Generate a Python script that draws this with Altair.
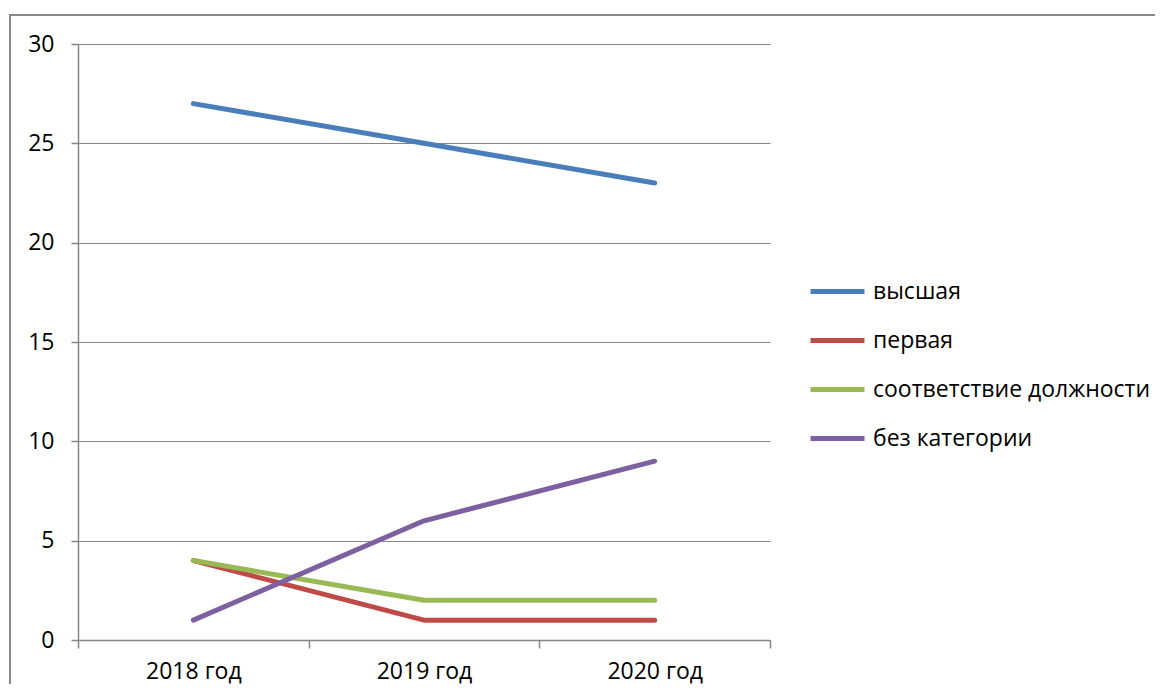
import json
import altair as alt
import pandas as pd

categories = ["2018 год", "2019 год", "2020 год"]
series_names = ["высшая", "первая", "соответствие должности", "без категории"]
v_high = [27, 25, 23]
v_first = [4, 1, 1]
v_match = [4, 2, 2]
v_none = [1, 6, 9]
colors = ["#4A7EBB", "#BE4B48", "#98B954", "#7D60A0"]
y_ticks = [0, 5, 10, 15, 20, 25, 30]

rows = []
for name, vals in zip(series_names, [v_high, v_first, v_match, v_none]):
    for i, (cat, v) in enumerate(zip(categories, vals)):
        rows.append({"cat": cat, "idx": i, "series": name, "value": v})
df = pd.DataFrame(rows)

tick_vals = []
for i in range(len(categories)):
    tick_vals += [i - 0.5, i]
tick_vals.append(len(categories) - 0.5)

label_expr = "datum.value % 1 === 0 ? " + json.dumps(categories, ensure_ascii=False) + "[datum.value] : ''"

GRAY = "#868686"
FONT = "Open Sans"
FS = 23
W, H = 692, 596
PAD = {"left": 70, "top": 36, "right": 385, "bottom": 44}

lines = alt.Chart(df).mark_line(strokeWidth=5, strokeCap="round", strokeJoin="round").encode(
    x=alt.X(
        "idx:Q",
        scale=alt.Scale(domain=[-0.5, len(categories) - 0.5], nice=False, zero=False),
        axis=alt.Axis(
            values=tick_vals,
            labelExpr=label_expr,
            title=None,
            grid=False,
            tickSize=8,
            labelPadding=12,
            tickOpacity={"condition": {"test": "datum.value % 1 !== 0", "value": 1}, "value": 0},
        ),
    ),
    y=alt.Y(
        "value:Q",
        scale=alt.Scale(domain=[0, 30], nice=False),
        axis=alt.Axis(values=y_ticks, title=None, grid=True, tickSize=7, labelPadding=17),
    ),
    color=alt.Color(
        "series:N",
        sort=series_names,
        scale=alt.Scale(domain=series_names, range=colors),
        legend=alt.Legend(
            title=None,
            orient="none",
            legendX=730,
            legendY=218,
            symbolType="stroke",
            symbolStrokeWidth=5,
            symbolSize=2916,
            labelFont=FONT,
            labelFontSize=FS,
            labelColor="black",
            labelOffset=6,
            labelLimit=600,
            rowPadding=7,
        ),
    ),
)

frame_data = alt.Data(values=[{"a": 1}])
frame_v = alt.Chart(frame_data).mark_rule(color="#898989", strokeWidth=2).encode(
    x=alt.value(-68), y=alt.value(-29), y2=alt.value(H + PAD["bottom"])
)
frame_h = alt.Chart(frame_data).mark_rule(color="#898989", strokeWidth=2).encode(
    x=alt.value(-69), x2=alt.value(W + PAD["right"]), y=alt.value(-29)
)

chart = alt.layer(lines, frame_v, frame_h).properties(
    width=W,
    height=H,
    autosize=alt.AutoSizeParams(type="none"),
    padding=PAD,
    background="white",
).configure_view(stroke=None).configure_axis(
    domainColor=GRAY,
    tickColor=GRAY,
    gridColor=GRAY,
    domainWidth=1.5,
    tickWidth=1.5,
    gridWidth=1.2,
    labelFont=FONT,
    labelFontSize=FS,
    labelColor="black",
)

chart.save("out.html", embed_options={"renderer": "svg", "actions": False})
